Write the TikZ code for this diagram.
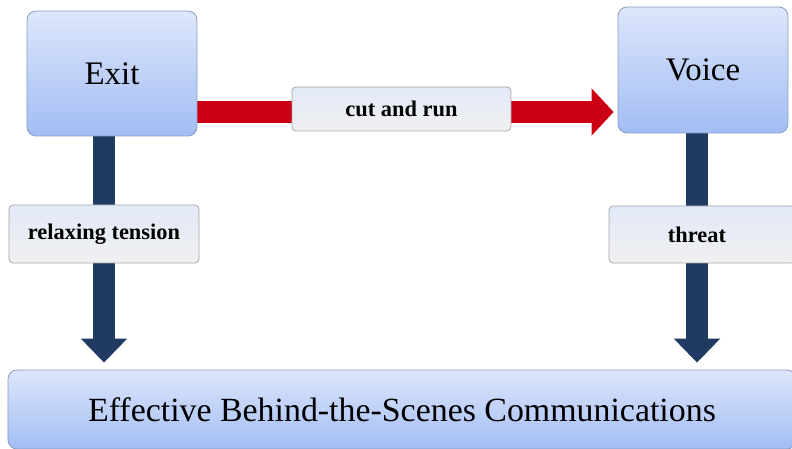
\documentclass[tikz,border=0pt]{standalone}
\usepackage{fontspec}
\setmainfont{Liberation Serif}
\usetikzlibrary{arrows.meta,calc}
\definecolor{boxtop}{HTML}{DDE6FB}
\definecolor{boxbot}{HTML}{A2BDF4}
\definecolor{boxedge}{HTML}{8C9DC0}
\definecolor{lbltop}{HTML}{E2E9F8}
\definecolor{lblbot}{HTML}{F0F0F0}
\definecolor{lbledge}{HTML}{A6A6A6}
\definecolor{navyarrow}{HTML}{213A62}
\definecolor{redarrow}{HTML}{CC0014}
\pgfdeclarelayer{bg}
\pgfsetlayers{bg,main}
\begin{document}
\begin{tikzpicture}[x=1bp,y=-1bp,
 mainbox/.style={draw=boxedge, line width=0.8bp, rounded corners=9bp, top color=boxtop, bottom color=boxbot, inner sep=0pt, font=\fontsize{33}{36}\selectfont},
 lblbox/.style={draw=lbledge, line width=0.8bp, rounded corners=4bp, top color=lbltop, bottom color=lblbot, inner sep=0pt, font=\bfseries\fontsize{22.5}{24}\selectfont},
 navyconn/.style={draw=navyarrow, line width=22bp, -{Triangle[width=45bp,length=24bp]}},
 redconn/.style={draw=redarrow, line width=22bp, -{Triangle[width=46bp,length=22bp]}}]
\useasboundingbox (0,0) rectangle (792,449);
\node[mainbox, minimum width=170bp, minimum height=125bp] (exit) at (112,73.5) {Exit};
\node[mainbox, minimum width=170bp, minimum height=126bp] (voice) at (703,70) {Voice};
\node[mainbox, minimum width=788bp, minimum height=79bp, font=\fontsize{34}{36}\selectfont] (bottom) at (402,409.5) {Effective Behind-the-Scenes Communications};
\node[lblbox, minimum width=219bp, minimum height=44bp] (cut) at (401.5,109) {cut and run};
\node[lblbox, minimum width=190bp, minimum height=58bp] (lblL) at (104,234) {relaxing tension};
\node[lblbox, minimum width=186bp, minimum height=57bp] (threat) at (702,234.5) {\hspace*{-10bp}threat};
\coordinate (redy) at (0,112);
\begin{pgfonlayer}{bg}
\draw[navyconn, shorten >=7bp] (lblL.center |- exit.south) -- (lblL.center |- bottom.north);
\draw[navyconn, shorten >=7bp] (697,0 |- voice.south) -- (697,0 |- bottom.north);
\draw[redconn, shorten >=4bp] (exit.east |- redy) -- (voice.west |- redy);
\end{pgfonlayer}
\end{tikzpicture}
\end{document}
